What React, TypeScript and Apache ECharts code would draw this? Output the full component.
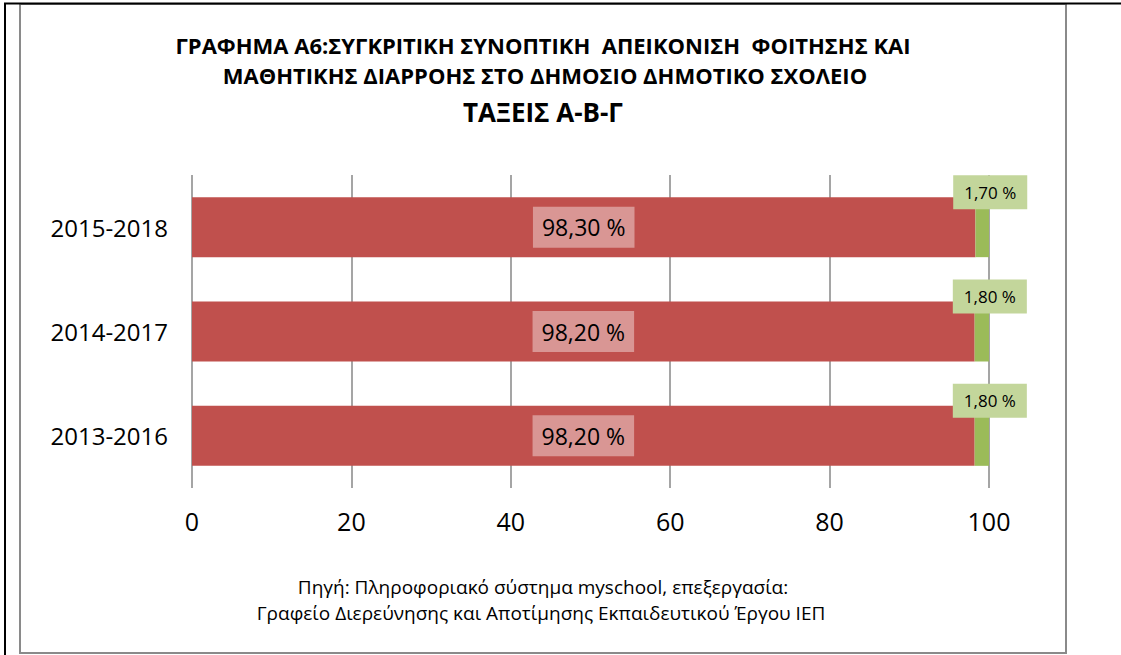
import React, { useEffect, useRef } from "react";
import * as echarts from "echarts";

const categories = ["2013-2016", "2014-2017", "2015-2018"];
const attendance = [98.2, 98.2, 98.3];
const dropout = [1.8, 1.8, 1.7];
const xTicks = { min: 0, max: 100, interval: 20 };
const titleLines = [
  "ΓΡΑΦΗΜΑ Α6:ΣΥΓΚΡΙΤΙΚΗ ΣΥΝΟΠΤΙΚΗ  ΑΠΕΙΚΟΝΙΣΗ  ΦΟΙΤΗΣΗΣ ΚΑΙ",
  "ΜΑΘΗΤΙΚΗΣ ΔΙΑΡΡΟΗΣ ΣΤΟ ΔΗΜΟΣΙΟ ΔΗΜΟΤΙΚΟ ΣΧΟΛΕΙΟ",
  "ΤΑΞΕΙΣ Α-Β-Γ",
];
const sourceLines = [
  "Πηγή: Πληροφοριακό σύστημα myschool, επεξεργασία:",
  "Γραφείο Διερεύνησης και Αποτίμησης Εκπαιδευτικού Έργου ΙΕΠ",
];

const FONT = "'Open Sans', 'Noto Sans', sans-serif";
const fmt = (v: number) => v.toFixed(2).replace(".", ",") + " %";

export default function App() {
  const ref = useRef<HTMLDivElement>(null);
  useEffect(() => {
    if (!ref.current) return;
    const chart = echarts.init(ref.current, null, { renderer: "svg" });
    chart.setOption({
      animation: false,
      backgroundColor: "#ffffff",
      textStyle: { fontFamily: FONT },
      grid: { left: 192, right: 132, top: 175, bottom: 167, containLabel: false },
      xAxis: {
        type: "value",
        min: xTicks.min,
        max: xTicks.max,
        interval: xTicks.interval,
        axisLine: { show: false },
        axisTick: { show: false },
        splitLine: { show: true, lineStyle: { color: "#878787", width: 1.5 } },
        axisLabel: { fontSize: 25, color: "#000", margin: 20, fontFamily: FONT },
      },
      yAxis: {
        type: "category",
        data: categories,
        axisLine: { show: false },
        axisTick: { show: false },
        axisLabel: { fontSize: 24, color: "#000", margin: 24, fontFamily: FONT },
      },
      series: [
        {
          type: "bar",
          stack: "total",
          data: attendance,
          barWidth: 60,
          itemStyle: { color: "#C0504D" },
          label: {
            show: true,
            position: "inside",
            formatter: (p: any) => fmt(p.value),
            fontSize: 23,
            fontFamily: FONT,
            color: "#000",
            backgroundColor: "#D99694",
            padding: [8, 9],
            lineHeight: 25,
          },
        },
        {
          type: "bar",
          stack: "total",
          data: dropout,
          barWidth: 60,
          itemStyle: { color: "#9BBB59" },
          label: {
            show: true,
            position: "top",
            distance: -12,
            offset: [8, 0],
            formatter: (p: any) => fmt(p.value),
            fontSize: 17,
            fontFamily: FONT,
            color: "#000",
            backgroundColor: "#C3D69B",
            padding: [7, 11],
            lineHeight: 20,
          },
        },
      ],
      graphic: [
        {
          type: "rect",
          shape: { x: 20, y: 4, width: 1046, height: 649 },
          style: { fill: "none", stroke: "#8a8a8a", lineWidth: 2 },
          silent: true,
        },
        {
          type: "line",
          shape: { x1: 4, y1: 3.5, x2: 1121, y2: 3.5 },
          style: { stroke: "#000", lineWidth: 2 },
        },
        {
          type: "line",
          shape: { x1: 5, y1: 3, x2: 5, y2: 655 },
          style: { stroke: "#000", lineWidth: 2 },
        },
        {
          type: "text",
          x: 543,
          y: 45,
          style: { text: titleLines[0], font: `bold 22px ${FONT}`, fill: "#000", align: "center", verticalAlign: "middle" },
        },
        {
          type: "text",
          x: 545,
          y: 75,
          style: { text: titleLines[1], font: `bold 22px ${FONT}`, fill: "#000", align: "center", verticalAlign: "middle" },
        },
        {
          type: "text",
          x: 543,
          y: 112,
          style: { text: titleLines[2], font: `bold 26px ${FONT}`, fill: "#000", align: "center", verticalAlign: "middle" },
        },
        {
          type: "text",
          x: 543,
          y: 587,
          style: { text: sourceLines[0], font: `19px ${FONT}`, fill: "#000", align: "center", verticalAlign: "middle" },
        },
        {
          type: "text",
          x: 541,
          y: 613,
          style: { text: sourceLines[1], font: `19px ${FONT}`, fill: "#000", align: "center", verticalAlign: "middle" },
        },
      ],
    });
    return () => chart.dispose();
  }, []);
  return (
    <div
      ref={ref}
      style={{ position: "fixed", left: 0, top: 0, width: 1121, height: 655 }}
    />
  );
}
